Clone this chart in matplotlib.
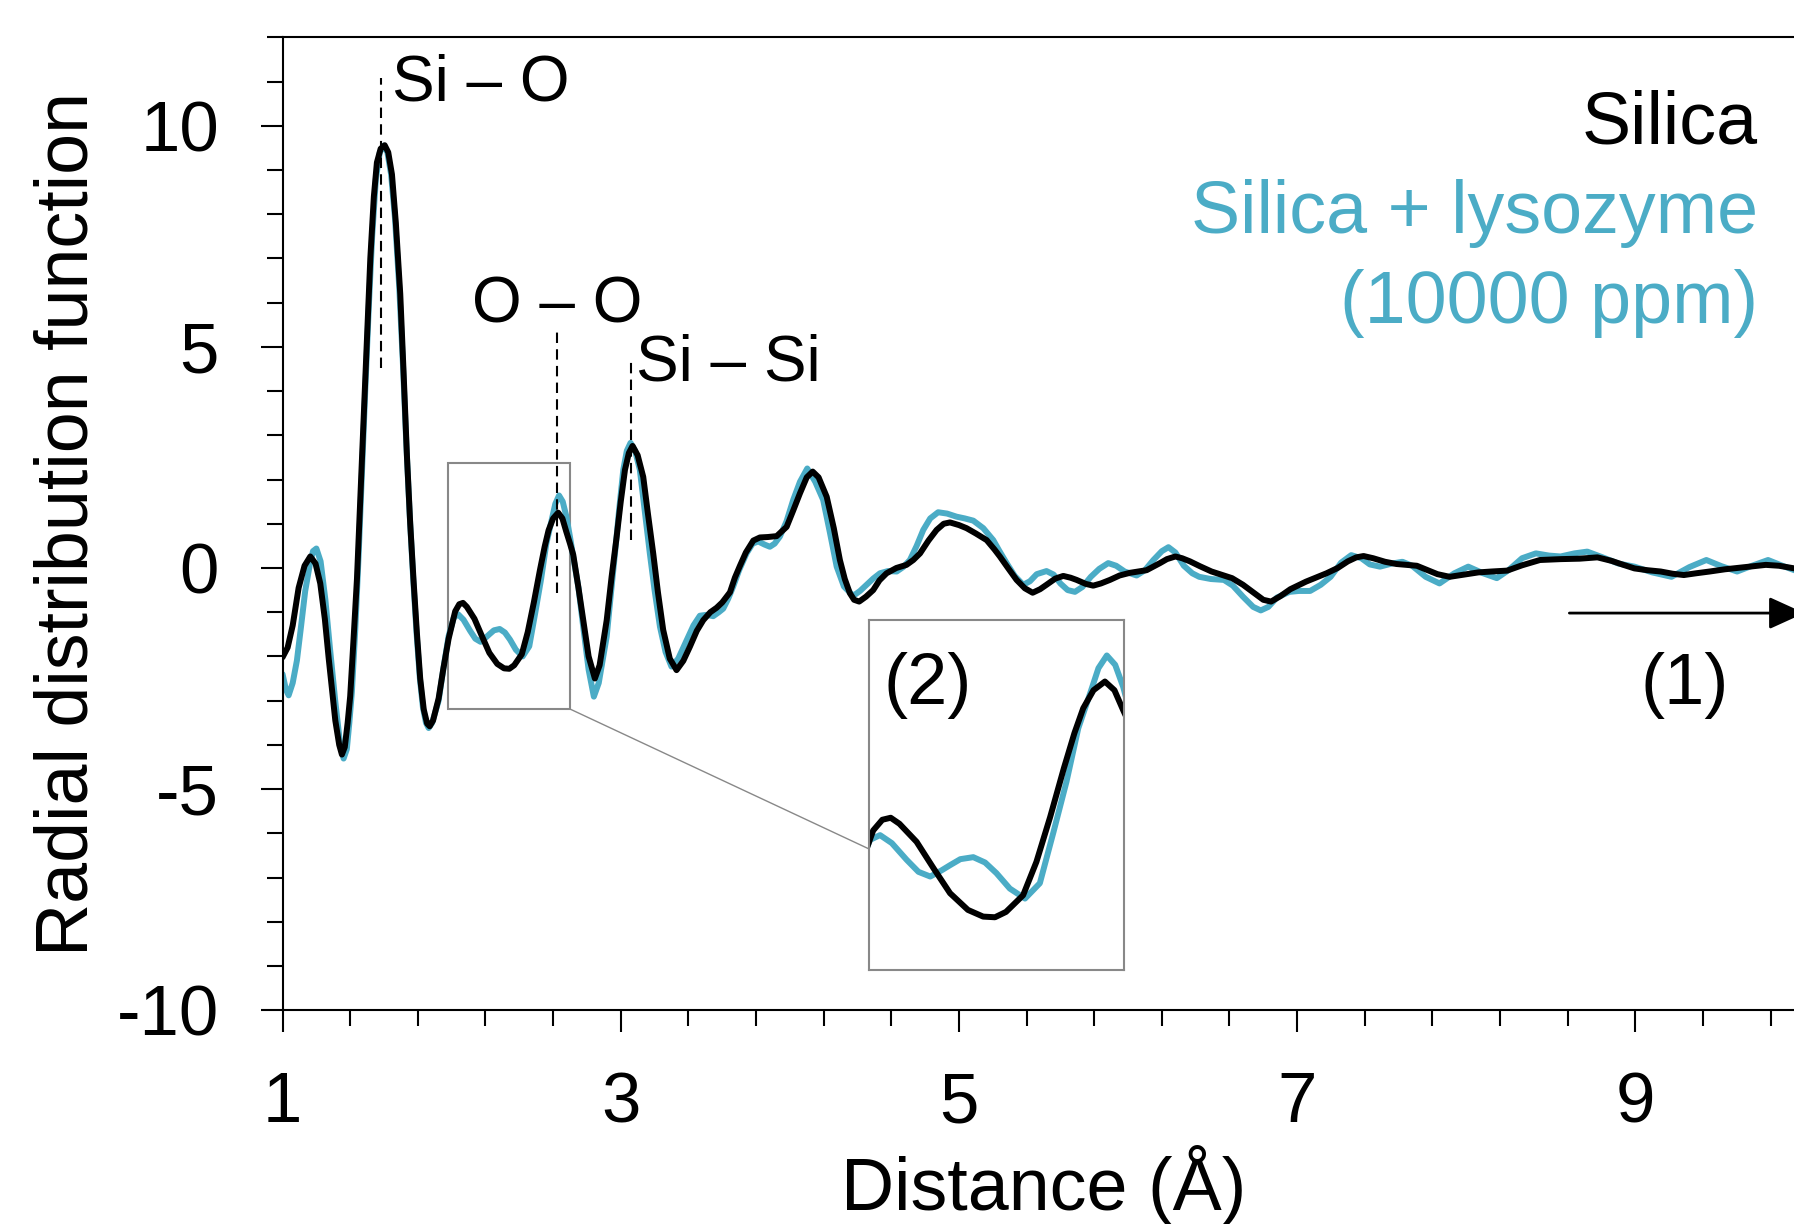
import numpy as np
import matplotlib
matplotlib.use('Agg')
import matplotlib.pyplot as plt
from matplotlib.patches import Rectangle, ConnectionPatch
from matplotlib.ticker import FixedLocator

plt.rcParams['font.family'] = ['Liberation Sans', 'DejaVu Sans']
plt.rcParams['axes.unicode_minus'] = False

CYAN = '#4BACC6'
GRAY = '#888888'

# silica (black)
black_r = [1.00, 1.03, 1.06, 1.095, 1.13, 1.164, 1.195, 1.223, 1.25, 1.273,
           1.312, 1.335, 1.351, 1.368, 1.385, 1.40, 1.42, 1.44, 1.46, 1.48,
           1.50, 1.519, 1.54, 1.558, 1.58, 1.604, 1.625, 1.647, 1.67, 1.696,
           1.716, 1.736, 1.755, 1.775, 1.795, 1.814, 1.835, 1.855, 1.87, 1.89,
           1.923, 1.95, 1.982, 2.021, 2.045, 2.067, 2.09, 2.135, 2.18, 2.223,
           2.27, 2.31, 2.341, 2.37, 2.415, 2.45, 2.486, 2.522, 2.55, 2.573,
           2.60, 2.63, 2.655, 2.678, 2.70, 2.719, 2.75, 2.778, 2.81, 2.847,
           2.875, 2.917, 2.946, 2.976, 3.00, 3.025, 3.048, 3.07, 3.10, 3.133,
           3.16, 3.192, 3.22, 3.251, 3.29, 3.33, 3.37, 3.409, 3.45, 3.488,
           3.53, 3.567, 3.60, 3.646, 3.675, 3.705, 3.74, 3.784, 3.823, 3.87,
           3.922, 3.981, 4.02, 4.06, 4.10, 4.135, 4.17, 4.218, 4.26, 4.296,
           4.325, 4.355, 4.38, 4.41, 4.45, 4.493, 4.53, 4.572, 4.63, 4.69,
           4.73, 4.77, 4.82, 4.868, 4.91, 4.947, 5.00, 5.045, 5.10, 5.164,
           5.21, 5.242, 5.29, 5.341, 5.39, 5.436, 5.48, 5.518, 5.57, 5.617,
           5.66, 5.696, 5.75, 5.794, 5.84, 5.893, 5.95, 6.011, 6.06, 6.11,
           6.15, 6.189, 6.23, 6.28, 6.32, 6.366, 6.425, 6.494, 6.55, 6.615,
           6.68, 6.75, 6.80, 6.846, 6.90, 6.96, 7.052, 7.11, 7.174, 7.24,
           7.30, 7.35, 7.393, 7.45, 7.52, 7.587, 7.65, 7.708, 7.76, 7.83,
           7.902, 7.97, 8.072, 8.15, 8.242, 8.33, 8.436, 8.558, 8.67, 8.776,
           8.86, 8.93, 8.995, 9.07, 9.15, 9.22, 9.287, 9.36, 9.44, 9.53,
           9.65, 9.772, 9.85, 9.94, 10.0]
black_g = [-2.02, -1.80, -1.30, -0.45, 0.05, 0.26, 0.10, -0.35, -1.15, -2.05,
           -3.45, -4.00, -4.22, -4.05, -3.50, -2.90, -1.60, -0.25, 1.60, 3.44,
           5.30, 7.00, 8.40, 9.17, 9.48, 9.56, 9.40, 8.90, 7.80, 6.20,
           4.40, 2.50, 1.00, -0.30, -1.50, -2.50, -3.20, -3.52, -3.58, -3.45,
           -2.95, -2.30, -1.60, -0.98, -0.82, -0.79, -0.88, -1.15, -1.55, -1.92,
           -2.17, -2.27, -2.28, -2.20, -1.95, -1.45, -0.78, -0.05, 0.48, 0.85,
           1.12, 1.25, 1.12, 0.82, 0.55, 0.30, -0.45, -1.18, -2.00, -2.50,
           -2.20, -1.18, -0.20, 0.71, 1.50, 2.22, 2.60, 2.76, 2.55, 2.06,
           1.25, 0.33, -0.55, -1.40, -2.05, -2.31, -2.10, -1.78, -1.42, -1.18,
           -1.00, -0.90, -0.78, -0.55, -0.22, 0.05, 0.35, 0.62, 0.69, 0.70,
           0.72, 0.93, 1.30, 1.69, 2.05, 2.18, 2.05, 1.61, 0.90, 0.18,
           -0.25, -0.57, -0.72, -0.76, -0.65, -0.50, -0.28, -0.12, 0.00, 0.07,
           0.18, 0.33, 0.62, 0.86, 1.00, 1.03, 0.97, 0.90, 0.78, 0.63,
           0.42, 0.26, 0.00, -0.27, -0.46, -0.56, -0.48, -0.38, -0.24, -0.18,
           -0.22, -0.27, -0.36, -0.40, -0.35, -0.27, -0.17, -0.11, -0.08, -0.05,
           0.03, 0.11, 0.20, 0.26, 0.22, 0.15, 0.04, -0.08, -0.15, -0.23,
           -0.38, -0.58, -0.72, -0.76, -0.64, -0.48, -0.31, -0.22, -0.12, 0.00,
           0.15, 0.24, 0.27, 0.22, 0.14, 0.09, 0.07, 0.05, -0.03, -0.14,
           -0.20, -0.16, -0.10, -0.08, -0.06, 0.06, 0.18, 0.20, 0.21, 0.24,
           0.16, 0.07, -0.01, -0.05, -0.08, -0.13, -0.16, -0.12, -0.08, -0.03,
           0.02, 0.07, 0.05, -0.01, -0.04]

# silica + lysozyme (cyan)
cyan_r = [1.00, 1.02, 1.036, 1.06, 1.085, 1.11, 1.134, 1.16, 1.18, 1.20,
          1.225, 1.253, 1.28, 1.312, 1.338, 1.361, 1.38, 1.395, 1.41, 1.43,
          1.45, 1.47, 1.49, 1.51, 1.53, 1.552, 1.575, 1.598, 1.62, 1.642,
          1.665, 1.69, 1.712, 1.732, 1.752, 1.772, 1.792, 1.812, 1.83, 1.848,
          1.864, 1.885, 1.923, 1.95, 1.982, 2.013, 2.039, 2.07, 2.109, 2.14,
          2.171, 2.20, 2.223, 2.25, 2.284, 2.315, 2.345, 2.38, 2.42, 2.459,
          2.495, 2.529, 2.56, 2.591, 2.613, 2.635, 2.657, 2.678, 2.70, 2.719,
          2.75, 2.778, 2.81, 2.841, 2.87, 2.917, 2.94, 2.966, 2.99, 3.015,
          3.036, 3.058, 3.085, 3.113, 3.14, 3.172, 3.20, 3.232, 3.265, 3.30,
          3.34, 3.39, 3.43, 3.468, 3.507, 3.547, 3.58, 3.606, 3.635, 3.665,
          3.70, 3.744, 3.78, 3.813, 3.85, 3.882, 3.91, 3.941, 3.98, 4.02,
          4.06, 4.103, 4.15, 4.197, 4.237, 4.277, 4.32, 4.375, 4.415, 4.454,
          4.493, 4.533, 4.58, 4.632, 4.67, 4.71, 4.75, 4.789, 4.83, 4.877,
          4.93, 4.986, 5.035, 5.085, 5.144, 5.203, 5.24, 5.282, 5.33, 5.38,
          5.42, 5.46, 5.518, 5.56, 5.60, 5.643, 5.686, 5.73, 5.78, 5.83,
          5.883, 5.93, 5.98, 6.051, 6.10, 6.15, 6.20, 6.239, 6.28, 6.33,
          6.38, 6.421, 6.49, 6.567, 6.62, 6.68, 6.74, 6.785, 6.83, 6.88,
          6.955, 7.01, 7.077, 7.14, 7.198, 7.26, 7.32, 7.38, 7.43, 7.49,
          7.56, 7.623, 7.68, 7.76, 7.842, 7.93, 8.012, 8.10, 8.181, 8.25,
          8.33, 8.412, 8.49, 8.558, 8.64, 8.716, 8.80, 8.90, 8.995, 9.10,
          9.214, 9.32, 9.42, 9.51, 9.602, 9.69, 9.785, 9.87, 9.94, 10.0]
cyan_g = [-2.40, -2.75, -2.88, -2.60, -2.09, -1.30, -0.52, 0.05, 0.38, 0.44,
          0.15, -0.71, -1.80, -3.02, -3.90, -4.31, -4.10, -3.50, -2.80, -1.40,
          0.30, 2.20, 4.10, 5.90, 7.50, 8.80, 9.40, 9.55, 9.40, 8.90,
          7.90, 6.35, 4.60, 2.80, 1.20, -0.20, -1.45, -2.50, -3.15, -3.50,
          -3.62, -3.50, -3.00, -2.30, -1.54, -1.12, -1.05, -1.17, -1.42, -1.60,
          -1.67, -1.58, -1.50, -1.41, -1.38, -1.46, -1.62, -1.85, -2.00, -1.77,
          -1.00, -0.25, 0.55, 1.07, 1.45, 1.64, 1.50, 1.17, 0.70, 0.25,
          -0.45, -1.33, -2.30, -2.91, -2.60, -1.55, -0.65, 0.33, 1.30, 2.22,
          2.65, 2.83, 2.65, 2.22, 1.35, 0.33, -0.50, -1.33, -1.90, -2.23,
          -2.05, -1.63, -1.30, -1.08, -1.06, -1.09, -1.00, -0.92, -0.70, -0.42,
          -0.05, 0.33, 0.55, 0.60, 0.53, 0.48, 0.55, 0.71, 1.05, 1.54,
          1.95, 2.25, 1.95, 1.54, 0.80, 0.03, -0.42, -0.63, -0.52, -0.38,
          -0.24, -0.12, -0.07, -0.08, 0.02, 0.18, 0.50, 0.86, 1.12, 1.26,
          1.23, 1.16, 1.12, 1.07, 0.90, 0.63, 0.38, 0.11, -0.18, -0.38,
          -0.30, -0.14, -0.07, -0.15, -0.35, -0.50, -0.54, -0.43, -0.20, -0.02,
          0.11, 0.05, -0.08, -0.17, -0.05, 0.18, 0.38, 0.47, 0.35, 0.05,
          -0.12, -0.20, -0.25, -0.27, -0.40, -0.65, -0.88, -0.96, -0.88, -0.67,
          -0.54, -0.52, -0.52, -0.38, -0.20, 0.12, 0.29, 0.22, 0.08, 0.03,
          0.10, 0.14, 0.05, -0.20, -0.35, -0.12, 0.03, -0.12, -0.23, -0.05,
          0.22, 0.33, 0.28, 0.26, 0.33, 0.37, 0.25, 0.10, 0.03, -0.10,
          -0.20, 0.02, 0.18, 0.04, -0.08, 0.05, 0.18, 0.05, -0.05, -0.08]

# peak assignments
peak_names = ['Si – O', 'O – O', 'Si – Si']
peak_r = [1.582, 2.625, 3.058]
peak_top = [11.07, 5.38, 4.74]
peak_bot = [4.52, -0.57, 0.63]

x_major = [1, 3, 5, 7, 9]
y_major = [-10, -5, 0, 5, 10]

line_kw = dict(lw=4.3, solid_joinstyle='round', solid_capstyle='round')

fig = plt.figure(figsize=(17.94, 12.24), dpi=100)
ax = fig.add_axes([0.1575, 0.1747, 0.8483, 0.7948])

ax.plot(cyan_r, cyan_g, color=CYAN, zorder=2, **line_kw)
ax.plot(black_r, black_g, color='black', zorder=3, **line_kw)

ax.set_xlim(1, 10)
ax.set_ylim(-10, 12)

ax.xaxis.set_major_locator(FixedLocator(x_major))
ax.xaxis.set_minor_locator(FixedLocator(np.arange(1, 10, 0.4)))
ax.yaxis.set_major_locator(FixedLocator(y_major))
ax.yaxis.set_minor_locator(FixedLocator(np.arange(-10, 12.5, 1)))
ax.tick_params(which='major', direction='out', length=15.8, width=1.5, labelsize=51)
ax.tick_params(which='minor', direction='out', length=11.5, width=1.5)
ax.tick_params(axis='x', which='major', pad=28)
ax.tick_params(axis='y', which='major', pad=30)
for s in ['left', 'bottom', 'top']:
    ax.spines[s].set_linewidth(1.5)
ax.spines['right'].set_visible(False)

ax.set_xlabel('Distance (Å)', fontsize=53)
ax.xaxis.set_label_coords(0.5, -0.139)
ax.set_ylabel('Radial distribution function', fontsize=53)
ax.yaxis.set_label_coords(-0.118, 0.5)

# peak markers
for name, r, top, bot in zip(peak_names, peak_r, peak_top, peak_bot):
    ax.plot([r, r], [bot, top], ls=(0, (5, 3)), lw=1.5, color='black', zorder=5)
ax.text(1.65, 10.58, peak_names[0], fontsize=46, va='baseline')
ax.text(2.12, 5.54, peak_names[1], fontsize=46, va='baseline')
ax.text(3.09, 4.25, peak_names[2], fontsize=46, va='baseline')

# legend text
ax.text(9.725, 9.60, 'Silica', fontsize=53, ha='right', va='baseline', color='black')
ax.text(9.725, 7.57, 'Silica + lysozyme', fontsize=53, ha='right', va='baseline', color=CYAN)
ax.text(9.725, 5.53, '(10000 ppm)', fontsize=53, ha='right', va='baseline', color=CYAN)

# (1) arrow
ax.annotate('', xy=(10.0, -1.02), xytext=(8.61, -1.02),
            arrowprops=dict(arrowstyle='-|>,head_length=1.1,head_width=0.5',
                            color='black', lw=2, mutation_scale=20,
                            shrinkA=0, shrinkB=0),
            annotation_clip=False)
ax.text(9.29, -3.08, '(1)', fontsize=52, ha='center', va='baseline')

# zoom box
ax.add_patch(Rectangle((1.98, -3.19), 0.72, 5.56, fill=False,
                       edgecolor=GRAY, lw=1.5, zorder=1))

axin = fig.add_axes([0.4844, 0.2075, 0.1421, 0.2859])
axin.plot(cyan_r, cyan_g, color=CYAN, **line_kw)
axin.plot(black_r, black_g, color='black', **line_kw)
axin.set_xlim(2.01, 2.68)
axin.set_ylim(-3.07, 2.17)
axin.set_xticks([])
axin.set_yticks([])
for s in axin.spines.values():
    s.set_edgecolor(GRAY)
    s.set_linewidth(1.5)
axin.text(0.055, 0.76, '(2)', fontsize=52, va='baseline', transform=axin.transAxes)

con = ConnectionPatch(xyA=(2.70, -3.19), coordsA=ax.transData,
                      xyB=(0, 0.346), coordsB=axin.transAxes,
                      color=GRAY, lw=1.0)
fig.add_artist(con)

fig.savefig('out.png', dpi=100)
